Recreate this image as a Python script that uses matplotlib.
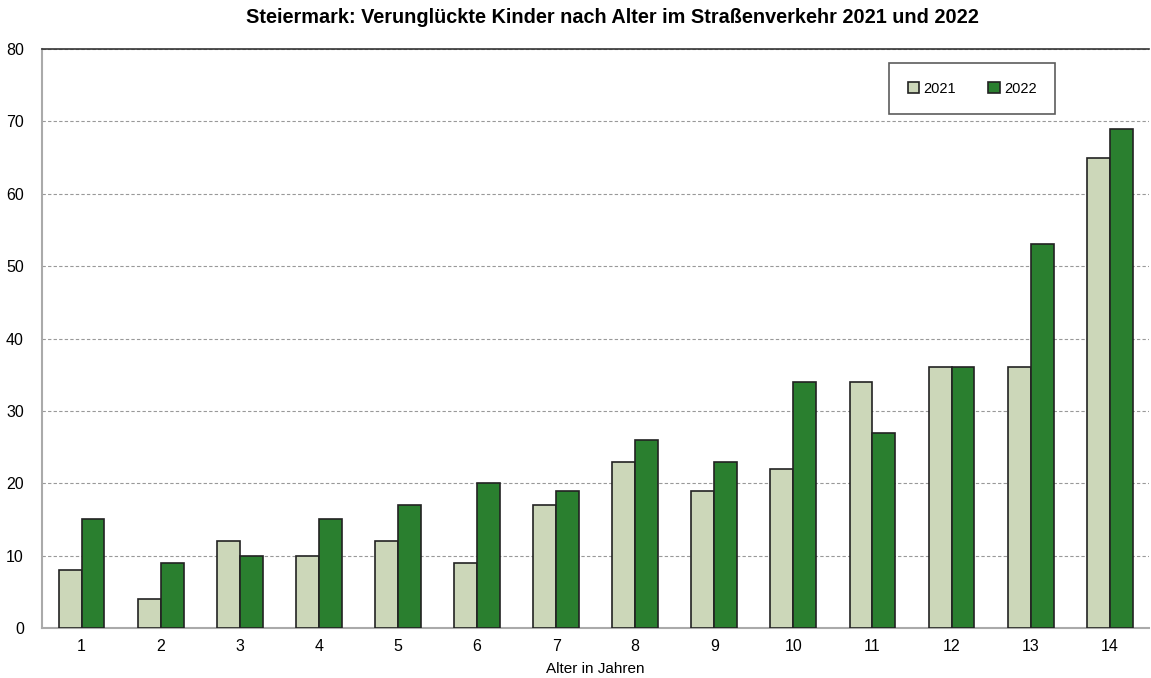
import matplotlib.pyplot as plt
import numpy as np

plt.rcParams['font.family'] = ['Liberation Sans', 'DejaVu Sans']

# Verunglückte Kinder nach Alter
ages = [str(a) for a in range(1, 15)]
y2021 = [8, 4, 12, 10, 12, 9, 17, 23, 19, 22, 34, 36, 36, 65]
y2022 = [15, 9, 10, 15, 17, 20, 19, 26, 23, 34, 27, 36, 53, 69]

x = np.arange(len(ages))
w = 0.29

fig = plt.figure(figsize=(11.51, 6.78), dpi=100)
ax = fig.add_axes([0.0365, 0.0737, 0.962, 0.854])

ax.bar(x - w / 2, y2021, w, color='#ccd7b9', edgecolor='#222222', linewidth=1.2,
       label='2021', zorder=3)
ax.bar(x + w / 2, y2022, w, color='#2a7f2f', edgecolor='#222222', linewidth=1.2,
       label='2022', zorder=3)

ax.set_xlim(-0.5, len(ages) - 0.5)
ax.set_ylim(0, 80)
ax.set_yticks(range(0, 81, 10))
ax.set_xticks(x)
ax.set_xticklabels(ages)
ax.tick_params(axis='both', length=0, labelsize=11.5, pad=8)
ax.tick_params(axis='y', pad=13)
ax.yaxis.grid(True, linestyle=(0, (3, 2)), color='#999999', linewidth=0.8, zorder=0)

for s in ['left', 'bottom']:
    ax.spines[s].set_color('#aaaaaa')
    ax.spines[s].set_linewidth(1.5)
ax.spines['right'].set_visible(False)
ax.spines['top'].set_color('#333333')
ax.spines['top'].set_linewidth(1.2)

ax.set_xlabel('Alter in Jahren', fontsize=11, labelpad=6)
fig.suptitle('Steiermark: Verunglückte Kinder nach Alter im Straßenverkehr 2021 und 2022',
             fontsize=14.3, fontweight='bold', x=0.532, y=0.988)

leg = ax.legend(loc='upper right', bbox_to_anchor=(0.915, 0.975), ncol=2, frameon=True,
                fancybox=False, edgecolor='#333333', fontsize=10.5, handlelength=0.8,
                handleheight=0.8, columnspacing=2.2, borderpad=1.25, borderaxespad=0,
                handletextpad=0.3)
leg.get_frame().set_linewidth(1.2)

plt.savefig('out.png', dpi=100)
